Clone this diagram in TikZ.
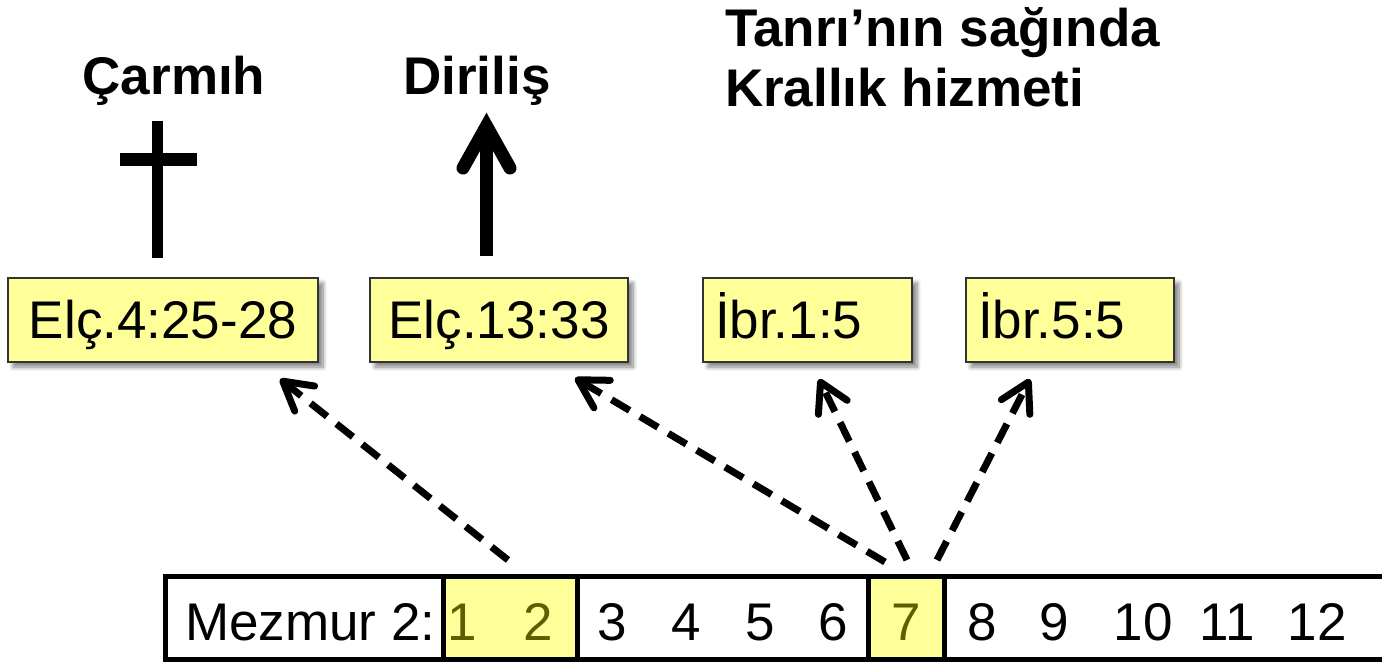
\documentclass[tikz,border=0pt]{standalone}
\usepackage{fontspec}
\setmainfont{Liberation Sans}
\usetikzlibrary{arrows.meta,calc,shadows.blur}
\definecolor{boxyellow}{HTML}{FFFF99}
\definecolor{olivetext}{HTML}{5E5E00}
\begin{document}
\begin{tikzpicture}[x=0.5pt,y=-0.5pt,
  every node/.style={font=\fontsize{26.5}{30}\selectfont, inner sep=0pt, outer sep=0pt},
  refbox/.style={draw=black!80, line width=1pt, fill=boxyellow, minimum height=42pt,
    text height=19pt, text depth=0pt,
    blur shadow={shadow xshift=2.5pt, shadow yshift=-2.5pt, shadow blur steps=8, shadow opacity=50}},
  leftbox/.style={refbox, inner xsep=6pt, align=left},
  title/.style={font=\fontsize{26.5}{30}\selectfont\bfseries, anchor=base},
  titleleft/.style={font=\fontsize{26.5}{30}\selectfont\bfseries, anchor=base west},
  cell/.style={draw=black, line width=2.5pt, minimum height=41.5pt},
  num/.style={anchor=base},
  hnum/.style={anchor=base, text=olivetext},
  link/.style={line width=3.5pt, dash pattern=on 10.5pt off 6pt,
    -{Straight Barb[length=14pt,width=16pt,round]}}]
\useasboundingbox (0,0) rectangle (1382,663);

% titles
\node[title] (t1) at (174,95) {Çarmıh};
\node[title] (t2) at (477,95) {Diriliş};
\node[titleleft] (t3a) at (725,47) {Tanrı’nın sağında};
\node[titleleft] (t3b) at (725,107) {Krallık hizmeti};

% cross
\fill (152,121) rectangle (163,258);
\fill (120,153) rectangle (197,166);

% resurrection arrow
\draw[line width=6.5pt] (486.5,256) -- (486.5,132);
\draw[line width=6.5pt, line cap=round, miter limit=10] (463,168) -- (486.5,126) -- (510,168);

% reference boxes
\node[refbox, minimum width=155pt] (b1) at (163,320) {Elç.4:25-28};
\node[refbox, minimum width=129pt] (b2) at (499,320) {Elç.13:33};
\node[leftbox, text width=92.5pt] (b3) at (807.5,320) {İbr.1:5};
\node[leftbox, text width=92pt] (b4) at (1070,320) {İbr.5:5};

% psalm bar
\node[cell, minimum width=238pt] (c8) at (1182,617.5) {};
\node[cell, minimum width=139pt] (c0) at (304,617.5) {};
\node[cell, minimum width=145.5pt] (c36) at (722.5,617.5) {};
\node[cell, fill=boxyellow, minimum width=67pt] (c12) at (510,617.5) {};
\node[cell, fill=boxyellow, minimum width=38pt] (c7) at (906,617.5) {};

\node[anchor=base west] (mz) at (185,640) {Mezmur 2:};
\node[hnum] (n1) at (462,640) {1};
\node[hnum] (n2) at (538,640) {2};
\node[num] (n3) at (612,640) {3};
\node[num] (n4) at (686,640) {4};
\node[num] (n5) at (760,640) {5};
\node[num] (n6) at (833,640) {6};
\node[hnum] (n7) at (906,640) {7};
\node[num] (n8) at (982,640) {8};
\node[num] (n9) at (1054,640) {9};
\node[num] (n10) at (1143,640) {10};
\node[num] (n11) at (1227,640) {11};
\node[num] (n12) at (1317,640) {12};

% links
\draw[link] ($(c12.north)+(-2,-16)$) -- ($(b1.south)+(117,17)$);
\draw[link] ($(c7.north)+(-21,-14)$) -- ($(b2.south)+(76,16)$);
\draw[link] ($(c7.north)+(1,-16)$) -- ($(b3.south)+(11.5,17)$);
\draw[link] ($(c7.north)+(31,-16)$) -- ($(b4.south)+(-40,17)$);
\end{tikzpicture}
\end{document}
